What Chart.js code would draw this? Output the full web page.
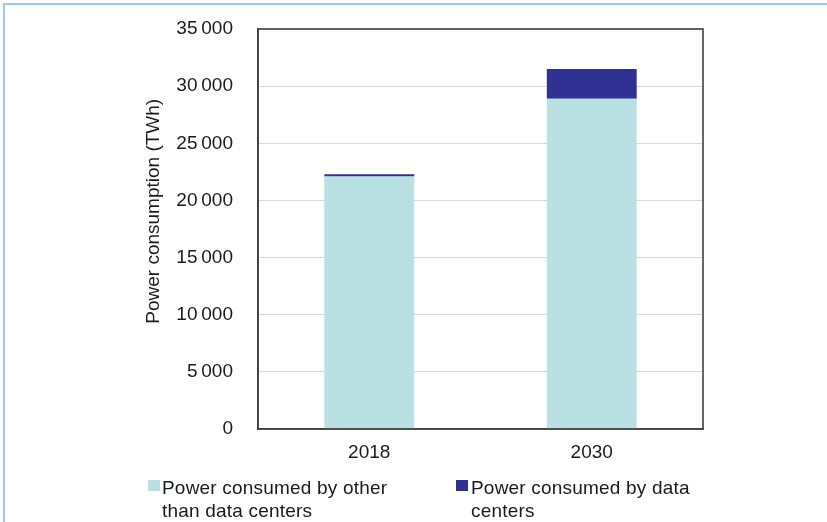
<!DOCTYPE html>
<html>
<head>
<meta charset="utf-8">
<script src="https://cdn.jsdelivr.net/npm/chart.js@4/dist/chart.umd.min.js"></script>
<style>
  html, body { margin: 0; padding: 0; background: #ffffff; }
  #wrap { position: relative; width: 827px; height: 522px; overflow: hidden; background: #fff; }
  #frame { position: absolute; left: 3px; top: 3px; width: 840px; height: 540px;
           border-top: 2px solid #9cc8f4; border-left: 2px solid #9cc8f4; box-sizing: border-box; }
  canvas { position: absolute; left: 0; top: 0; }
  .leg { position: absolute; font-family: "Liberation Sans", Arial, sans-serif; font-size: 19px;
         line-height: 23px; color: #1a1a1a; white-space: nowrap; letter-spacing: 0.2px; }
  .sw { position: absolute; width: 12px; height: 11px; }
</style>
</head>
<body>
<div id="wrap">
  <canvas id="c" width="827" height="522"></canvas>
  <div id="frame"></div>
  <div class="sw" id="sw1" style="left:148px; top:480px;"></div>
  <div class="leg" id="lg1" style="left:162px; top:476px;"></div>
  <div class="sw" id="sw2" style="left:456px; top:480px;"></div>
  <div class="leg" id="lg2" style="left:471px; top:476px;"></div>
</div>
<script>
const categories = ['2018', '2030'];
const otherValues = [22100, 28900];
const dataCenterValues = [200, 2600];
const seriesNames = ['Power consumed by other\nthan data centers', 'Power consumed by data\ncenters'];
const seriesColors = ['#b9e0e3', '#2e3192'];
const yTickValues = [0, 5000, 10000, 15000, 20000, 25000, 30000, 35000];
const yTitle = 'Power consumption (TWh)';

// HTML legend built from the series names
[['sw1','lg1'],['sw2','lg2']].forEach((ids, i) => {
  document.getElementById(ids[0]).style.background = seriesColors[i];
  const el = document.getElementById(ids[1]);
  seriesNames[i].split('\n').forEach((line, k) => {
    if (k) el.appendChild(document.createElement('br'));
    el.appendChild(document.createTextNode(line));
  });
});

function fmt(v) {
  const s = String(v);
  return s.length > 3 ? s.slice(0, s.length - 3) + '\u2009' + s.slice(-3) : s;
}

const framePlugin = {
  id: 'frame',
  afterDraw(chart) {
    const a = chart.chartArea, ctx = chart.ctx;
    ctx.save();
    ctx.strokeStyle = '#404040';
    ctx.lineWidth = 1.6;
    ctx.strokeRect(a.left, a.top, a.right - a.left, a.bottom - a.top);
    ctx.restore();
  }
};

const font = { family: '"Liberation Sans", Arial, sans-serif', size: 19 };

new Chart(document.getElementById('c'), {
  type: 'bar',
  data: {
    labels: categories,
    datasets: [
      { label: seriesNames[0], data: otherValues, backgroundColor: seriesColors[0],
        barPercentage: 0.404, categoryPercentage: 1, borderWidth: 0 },
      { label: seriesNames[1], data: dataCenterValues, backgroundColor: seriesColors[1],
        barPercentage: 0.404, categoryPercentage: 1, borderWidth: 0 }
    ]
  },
  options: {
    responsive: false,
    animation: false,
    devicePixelRatio: 1,
    layout: { padding: { left: 138, top: 29, right: 124, bottom: 0 } },
    plugins: { legend: { display: false }, tooltip: { enabled: false } },
    scales: {
      x: {
        stacked: true,
        grid: { display: false, drawTicks: false },
        border: { display: true, color: '#404040', width: 1.6 },
        ticks: { color: '#1a1a1a', font: font, padding: 12 },
        afterFit(s) { s.height = 93; s.paddingLeft = 0; s.paddingRight = 0; }
      },
      y: {
        stacked: true,
        min: 0, max: 35000,
        afterBuildTicks(s) { s.ticks = yTickValues.map(v => ({ value: v })); },
        grid: { color: '#d9d9d9', lineWidth: 1, drawTicks: false },
        border: { display: true, color: '#404040', width: 1.6 },
        ticks: { color: '#1a1a1a', font: font, padding: 25, callback: v => fmt(v) },
        title: { display: true, text: '\u00a0\u00a0\u00a0\u00a0\u00a0\u00a0\u2009' + yTitle, color: '#1a1a1a', font: font },
        afterFit(s) { s.width = 120; s.paddingTop = 0; s.paddingBottom = 0; }
      }
    }
  },
  plugins: [framePlugin]
});
</script>
</body>
</html>
